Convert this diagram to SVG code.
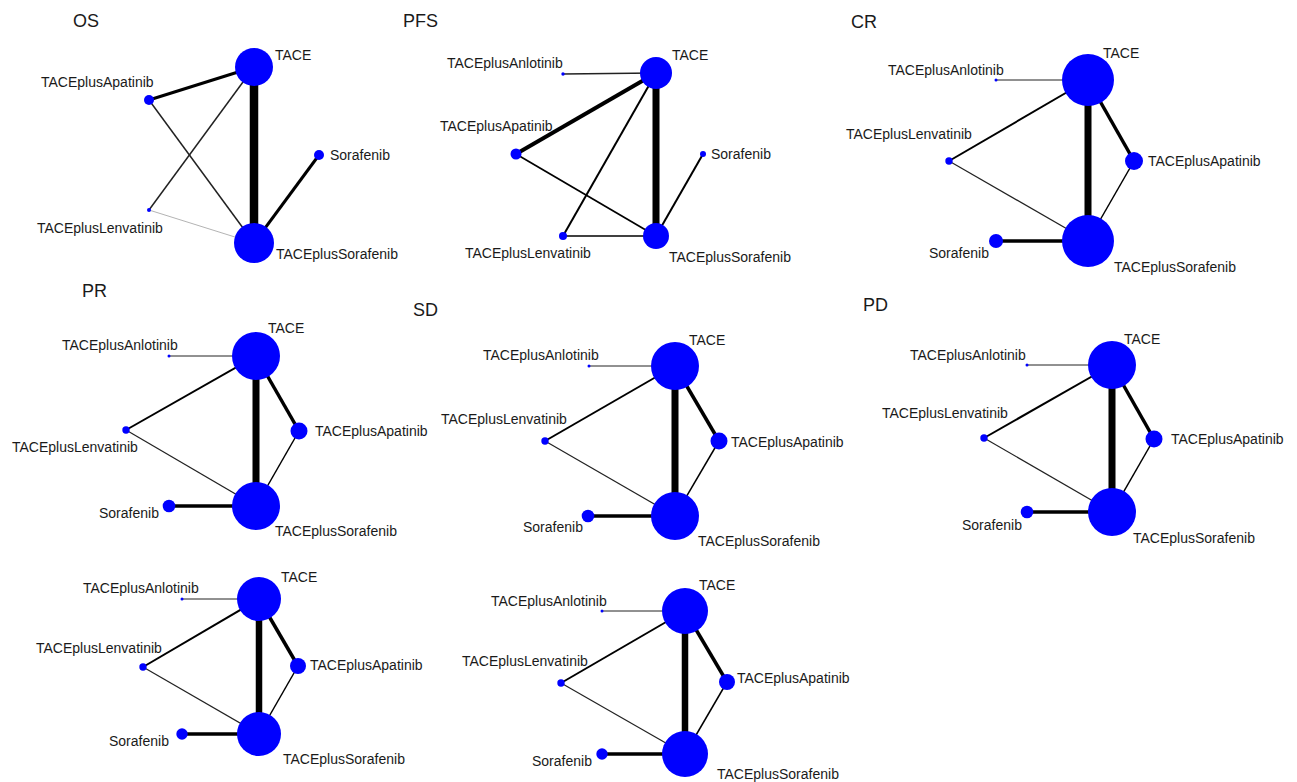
<svg xmlns="http://www.w3.org/2000/svg" width="1297" height="782" viewBox="0 0 1297 782">
<style>
text{font-family:"Liberation Sans",Arial,sans-serif;fill:#1a1a1a}
.lb{font-size:14px}
.tt{font-size:18px}
.nd{fill:#0000ff}
.e{stroke:#000;fill:none;stroke-linecap:butt}
.g{stroke:#222}
.lg{stroke:#aaa}
</style>
<rect width="1297" height="782" fill="#fff"/>

<!-- OS -->
<g id="panel-os">
<text class="tt" x="73" y="27">OS</text>
<g id="os-edges">
<line class="e" x1="254" y1="67" x2="254" y2="243" stroke-width="8.5"/>
<line class="e" x1="254" y1="67" x2="149" y2="100" stroke-width="3"/>
<line class="e" x1="319" y1="155" x2="254" y2="243" stroke-width="3"/>
<line class="e g" x1="149" y1="100" x2="254" y2="243" stroke-width="1.5"/>
<line class="e g" x1="149" y1="210" x2="254" y2="67" stroke-width="1.5"/>
<line class="e lg" x1="149" y1="210" x2="254" y2="243" stroke-width="0.9"/>
</g>
<g id="os-tace"><circle class="nd" cx="254" cy="67" r="19"/><text class="lb" x="275" y="60">TACE</text></g>
<g id="os-apa"><circle class="nd" cx="149" cy="100" r="5"/><text class="lb" x="41" y="87">TACEplusApatinib</text></g>
<g id="os-sor"><circle class="nd" cx="319" cy="155" r="5"/><text class="lb" x="330" y="160">Sorafenib</text></g>
<g id="os-len"><circle class="nd" cx="149" cy="210" r="2"/><text class="lb" x="37" y="233">TACEplusLenvatinib</text></g>
<g id="os-ts"><circle class="nd" cx="254" cy="243" r="20"/><text class="lb" x="276" y="259">TACEplusSorafenib</text></g>
</g>

<!-- PFS -->
<g id="panel-pfs">
<text class="tt" x="403" y="27">PFS</text>
<g id="pfs-edges">
<line class="e" x1="656" y1="73" x2="656" y2="236" stroke-width="7"/>
<line class="e g" x1="656" y1="73" x2="563" y2="74" stroke-width="1.3"/>
<line class="e" x1="656" y1="73" x2="516" y2="154" stroke-width="4"/>
<line class="e" x1="656" y1="73" x2="563" y2="236" stroke-width="2"/>
<line class="e" x1="516" y1="154" x2="656" y2="236" stroke-width="1.7"/>
<line class="e" x1="563" y1="236" x2="656" y2="236" stroke-width="1.7"/>
<line class="e" x1="703" y1="154" x2="656" y2="236" stroke-width="2"/>
</g>
<g id="pfs-tace"><circle class="nd" cx="656" cy="73" r="16"/><text class="lb" x="672" y="60">TACE</text></g>
<g id="pfs-anl"><circle class="nd" cx="563" cy="74" r="1.7"/><text class="lb" x="447" y="68">TACEplusAnlotinib</text></g>
<g id="pfs-apa"><circle class="nd" cx="516" cy="154" r="5.5"/><text class="lb" x="440" y="131">TACEplusApatinib</text></g>
<g id="pfs-sor"><circle class="nd" cx="703" cy="154" r="3"/><text class="lb" x="711" y="159">Sorafenib</text></g>
<g id="pfs-len"><circle class="nd" cx="563" cy="236" r="4"/><text class="lb" x="465" y="258">TACEplusLenvatinib</text></g>
<g id="pfs-ts"><circle class="nd" cx="656" cy="236" r="13"/><text class="lb" x="669" y="262">TACEplusSorafenib</text></g>
</g>

<!-- CR -->
<g id="panel-cr">
<text class="tt" x="851" y="28">CR</text>
<g id="cr-edges">
<line class="e" x1="1088" y1="80" x2="1088" y2="241" stroke-width="7"/>
<line class="e g" x1="1088" y1="80" x2="996" y2="80" stroke-width="1"/>
<line class="e" x1="1088" y1="80" x2="949" y2="161" stroke-width="2"/>
<line class="e g" x1="949" y1="161" x2="1088" y2="241" stroke-width="1.2"/>
<line class="e" x1="1088" y1="80" x2="1134" y2="161" stroke-width="3.5"/>
<line class="e" x1="1134" y1="161" x2="1088" y2="241" stroke-width="1.5"/>
<line class="e" x1="996" y1="241" x2="1088" y2="241" stroke-width="3.5"/>
</g>
<g id="cr-tace"><circle class="nd" cx="1088" cy="80" r="26"/><text class="lb" x="1103" y="58">TACE</text></g>
<g id="cr-anl"><circle class="nd" cx="996" cy="80" r="1.5"/><text class="lb" x="888" y="75">TACEplusAnlotinib</text></g>
<g id="cr-len"><circle class="nd" cx="949" cy="161" r="3.7"/><text class="lb" x="846" y="139">TACEplusLenvatinib</text></g>
<g id="cr-apa"><circle class="nd" cx="1134" cy="161" r="9"/><text class="lb" x="1148" y="166">TACEplusApatinib</text></g>
<g id="cr-sor"><circle class="nd" cx="996" cy="241" r="7"/><text class="lb" x="929" y="258">Sorafenib</text></g>
<g id="cr-ts"><circle class="nd" cx="1088" cy="241" r="26"/><text class="lb" x="1114" y="272">TACEplusSorafenib</text></g>
</g>

<!-- PR -->
<g id="panel-pr">
<text class="tt" x="82" y="297">PR</text>
<g id="pr-edges">
<line class="e" x1="256" y1="356" x2="256" y2="506" stroke-width="7"/>
<line class="e g" x1="256" y1="356" x2="169" y2="356" stroke-width="1"/>
<line class="e" x1="256" y1="356" x2="126" y2="430" stroke-width="2"/>
<line class="e g" x1="126" y1="430" x2="256" y2="506" stroke-width="1.2"/>
<line class="e" x1="256" y1="356" x2="299" y2="431" stroke-width="3.5"/>
<line class="e" x1="299" y1="431" x2="256" y2="506" stroke-width="1.5"/>
<line class="e" x1="169" y1="506" x2="256" y2="506" stroke-width="3.5"/>
</g>
<g id="pr-tace"><circle class="nd" cx="256" cy="356" r="24"/><text class="lb" x="268" y="333">TACE</text></g>
<g id="pr-anl"><circle class="nd" cx="169" cy="356" r="1.5"/><text class="lb" x="62" y="350">TACEplusAnlotinib</text></g>
<g id="pr-len"><circle class="nd" cx="126" cy="430" r="3.7"/><text class="lb" x="12" y="452">TACEplusLenvatinib</text></g>
<g id="pr-apa"><circle class="nd" cx="299" cy="431" r="8.5"/><text class="lb" x="315" y="436">TACEplusApatinib</text></g>
<g id="pr-sor"><circle class="nd" cx="169" cy="506" r="6.3"/><text class="lb" x="99" y="518">Sorafenib</text></g>
<g id="pr-ts"><circle class="nd" cx="256" cy="506" r="24"/><text class="lb" x="275" y="536">TACEplusSorafenib</text></g>
</g>

<!-- SD -->
<g id="panel-sd">
<text class="tt" x="413" y="316">SD</text>
<g id="sd-edges">
<line class="e" x1="675" y1="366" x2="675" y2="516" stroke-width="7"/>
<line class="e g" x1="675" y1="366" x2="589" y2="366" stroke-width="1"/>
<line class="e" x1="675" y1="366" x2="545" y2="441" stroke-width="2"/>
<line class="e g" x1="545" y1="441" x2="675" y2="516" stroke-width="1.2"/>
<line class="e" x1="675" y1="366" x2="719" y2="441" stroke-width="3.5"/>
<line class="e" x1="719" y1="441" x2="675" y2="516" stroke-width="1.5"/>
<line class="e" x1="588" y1="516" x2="675" y2="516" stroke-width="3.5"/>
</g>
<g id="sd-tace"><circle class="nd" cx="675" cy="366" r="24"/><text class="lb" x="689" y="345">TACE</text></g>
<g id="sd-anl"><circle class="nd" cx="589" cy="366" r="1.5"/><text class="lb" x="483" y="360">TACEplusAnlotinib</text></g>
<g id="sd-len"><circle class="nd" cx="545" cy="441" r="3.7"/><text class="lb" x="441" y="424">TACEplusLenvatinib</text></g>
<g id="sd-apa"><circle class="nd" cx="719" cy="441" r="8.5"/><text class="lb" x="731" y="447">TACEplusApatinib</text></g>
<g id="sd-sor"><circle class="nd" cx="588" cy="516" r="6.3"/><text class="lb" x="523" y="532">Sorafenib</text></g>
<g id="sd-ts"><circle class="nd" cx="675" cy="516" r="24"/><text class="lb" x="698" y="546">TACEplusSorafenib</text></g>
</g>

<!-- PD -->
<g id="panel-pd">
<text class="tt" x="863" y="311">PD</text>
<g id="pd-edges">
<line class="e" x1="1112" y1="365" x2="1112" y2="512" stroke-width="7"/>
<line class="e g" x1="1112" y1="365" x2="1027" y2="365" stroke-width="1"/>
<line class="e" x1="1112" y1="365" x2="984" y2="438" stroke-width="2"/>
<line class="e g" x1="984" y1="438" x2="1112" y2="512" stroke-width="1.2"/>
<line class="e" x1="1112" y1="365" x2="1154" y2="439" stroke-width="3.5"/>
<line class="e" x1="1154" y1="439" x2="1112" y2="512" stroke-width="1.5"/>
<line class="e" x1="1027" y1="512" x2="1112" y2="512" stroke-width="3.5"/>
</g>
<g id="pd-tace"><circle class="nd" cx="1112" cy="365" r="24"/><text class="lb" x="1124" y="344">TACE</text></g>
<g id="pd-anl"><circle class="nd" cx="1027" cy="365" r="1.5"/><text class="lb" x="910" y="360">TACEplusAnlotinib</text></g>
<g id="pd-len"><circle class="nd" cx="984" cy="438" r="3.7"/><text class="lb" x="882" y="418">TACEplusLenvatinib</text></g>
<g id="pd-apa"><circle class="nd" cx="1154" cy="439" r="8.5"/><text class="lb" x="1171" y="444">TACEplusApatinib</text></g>
<g id="pd-sor"><circle class="nd" cx="1027" cy="512" r="6.3"/><text class="lb" x="962" y="530">Sorafenib</text></g>
<g id="pd-ts"><circle class="nd" cx="1112" cy="512" r="24"/><text class="lb" x="1133" y="543">TACEplusSorafenib</text></g>
</g>

<!-- bottom left -->
<g id="panel-bl">
<g id="bl-edges">
<line class="e" x1="259" y1="599" x2="259" y2="734" stroke-width="6.5"/>
<line class="e g" x1="259" y1="599" x2="182" y2="599" stroke-width="1"/>
<line class="e" x1="259" y1="599" x2="143" y2="667" stroke-width="2"/>
<line class="e g" x1="143" y1="667" x2="259" y2="734" stroke-width="1.2"/>
<line class="e" x1="259" y1="599" x2="298" y2="666" stroke-width="3.5"/>
<line class="e" x1="298" y1="666" x2="259" y2="734" stroke-width="1.5"/>
<line class="e" x1="182" y1="734" x2="259" y2="734" stroke-width="3.5"/>
</g>
<g id="bl-tace"><circle class="nd" cx="259" cy="599" r="22"/><text class="lb" x="281" y="582">TACE</text></g>
<g id="bl-anl"><circle class="nd" cx="182" cy="599" r="1.5"/><text class="lb" x="83" y="593">TACEplusAnlotinib</text></g>
<g id="bl-len"><circle class="nd" cx="143" cy="667" r="3.7"/><text class="lb" x="36" y="653">TACEplusLenvatinib</text></g>
<g id="bl-apa"><circle class="nd" cx="298" cy="666" r="8"/><text class="lb" x="310" y="670">TACEplusApatinib</text></g>
<g id="bl-sor"><circle class="nd" cx="182" cy="734" r="5.7"/><text class="lb" x="109" y="746">Sorafenib</text></g>
<g id="bl-ts"><circle class="nd" cx="259" cy="734" r="22"/><text class="lb" x="283" y="764">TACEplusSorafenib</text></g>
</g>

<!-- bottom middle -->
<g id="panel-bm">
<g id="bm-edges">
<line class="e" x1="685" y1="611" x2="685" y2="754" stroke-width="6.5"/>
<line class="e g" x1="685" y1="611" x2="602" y2="611" stroke-width="1"/>
<line class="e" x1="685" y1="611" x2="561" y2="683" stroke-width="2"/>
<line class="e g" x1="561" y1="683" x2="685" y2="754" stroke-width="1.2"/>
<line class="e" x1="685" y1="611" x2="727" y2="682" stroke-width="3.5"/>
<line class="e" x1="727" y1="682" x2="685" y2="754" stroke-width="1.5"/>
<line class="e" x1="602" y1="754" x2="685" y2="754" stroke-width="3.5"/>
</g>
<g id="bm-tace"><circle class="nd" cx="685" cy="611" r="23"/><text class="lb" x="699" y="590">TACE</text></g>
<g id="bm-anl"><circle class="nd" cx="602" cy="611" r="1.5"/><text class="lb" x="491" y="606">TACEplusAnlotinib</text></g>
<g id="bm-len"><circle class="nd" cx="561" cy="683" r="3.7"/><text class="lb" x="462" y="666">TACEplusLenvatinib</text></g>
<g id="bm-apa"><circle class="nd" cx="727" cy="682" r="8"/><text class="lb" x="737" y="683">TACEplusApatinib</text></g>
<g id="bm-sor"><circle class="nd" cx="602" cy="754" r="5.7"/><text class="lb" x="532" y="766">Sorafenib</text></g>
<g id="bm-ts"><circle class="nd" cx="685" cy="754" r="23"/><text class="lb" x="717" y="779">TACEplusSorafenib</text></g>
</g>
</svg>
